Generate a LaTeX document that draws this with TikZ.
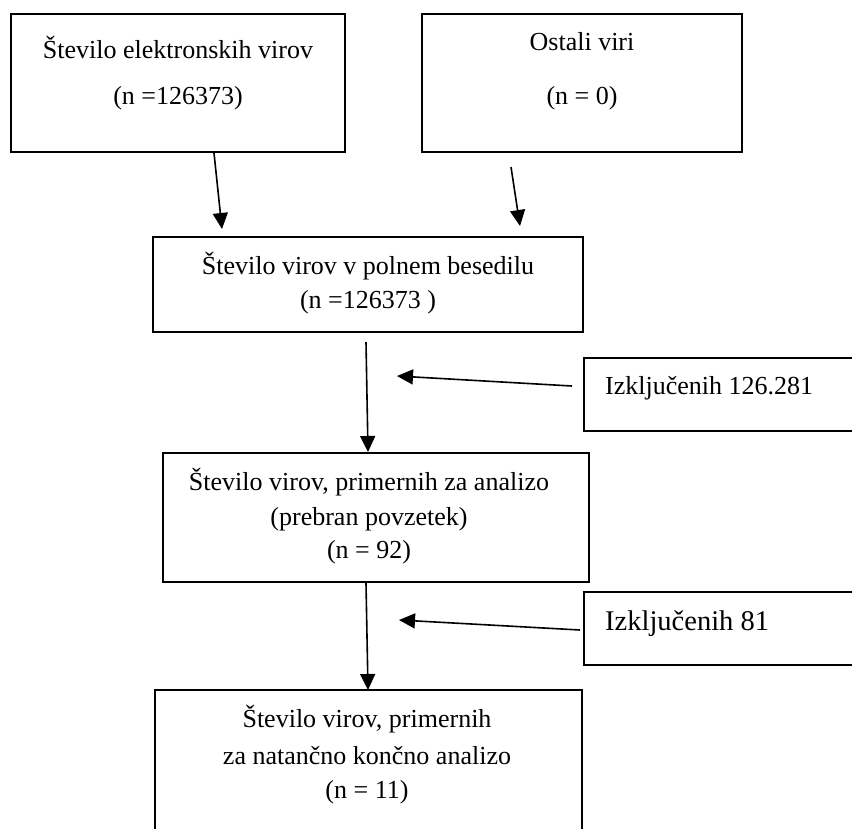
\documentclass[tikz,border=0pt]{standalone}
\usepackage{fontspec}
\setmainfont{Liberation Serif}
\usetikzlibrary{arrows.meta}
\begin{document}
\begin{tikzpicture}[x=1pt,y=-1pt,
  box/.style={draw, line width=1.6pt, rectangle, inner sep=0pt, outer sep=0pt},
  txt/.style={anchor=base, inner sep=0pt, font=\fontsize{26}{30}\selectfont},
  txtl/.style={anchor=base west, inner sep=0pt, font=\fontsize{26}{30}\selectfont},
  conn/.style={line width=1.6pt, -{Triangle[length=16pt,width=15pt]}}]
\clip (0,0) rectangle (852,828);
\fill[white] (0,0) rectangle (852,828);
% boxes
\node[box, minimum width=334pt, minimum height=138pt] (b1) at (178,83) {};
\node[box, minimum width=320pt, minimum height=138pt] (b2) at (582,83) {};
\node[box, minimum width=430pt, minimum height=95pt] (b3) at (368,284.5) {};
\node[box, minimum width=426pt, minimum height=129pt] (b4) at (376,517.5) {};
\node[box, minimum width=296pt, minimum height=73pt] (b5) at (732,394.5) {};
\node[box, minimum width=296pt, minimum height=73pt] (b6) at (732,628.5) {};
\node[box, minimum width=427pt, minimum height=170pt] (b7) at (368.5,775) {};
% texts
\node[txt] (t1a) at (178,58) {Število elektronskih virov};
\node[txt] (t1b) at (178,104) {(n =126373)};
\node[txt] (t2a) at (582,50) {Ostali viri};
\node[txt] (t2b) at (582,104) {(n = 0)};
\node[txt] (t3a) at (368,274) {Število virov v polnem besedilu};
\node[txt] (t3b) at (368,308) {(n =126373 )};
\node[txt] (t4a) at (369,490) {Število virov, primernih za analizo};
\node[txt] (t4b) at (369,525) {(prebran povzetek)};
\node[txt] (t4c) at (369,558) {(n = 92)};
\node[txtl] (t5) at (605,394) {Izključenih 126.281};
\node[txtl, font=\fontsize{28.5}{32}\selectfont] (t6) at (605,630) {Izključenih 81};
\node[txt] (t7a) at (367,727) {Število virov, primernih};
\node[txt] (t7b) at (367,764) {za natančno končno analizo};
\node[txt] (t7c) at (367,798) {(n = 11)};
% connector ends
\coordinate (a1s) at (214,153);
\coordinate (a1e) at (222,229);
\coordinate (a2s) at (511,167);
\coordinate (a2e) at (520,226);
\coordinate (a3s) at (366,342);
\coordinate (a3e) at (368,452);
\coordinate (a4s) at (572,386);
\coordinate (a4e) at (397,376);
\coordinate (a5s) at (366,583);
\coordinate (a5e) at (368,690);
\coordinate (a6s) at (580,630);
\coordinate (a6e) at (399,620);
\draw[conn] (a1s) -- (a1e);
\draw[conn] (a2s) -- (a2e);
\draw[conn] (a3s) -- (a3e);
\draw[conn] (a4s) -- (a4e);
\draw[conn] (a5s) -- (a5e);
\draw[conn] (a6s) -- (a6e);
\end{tikzpicture}
\end{document}
